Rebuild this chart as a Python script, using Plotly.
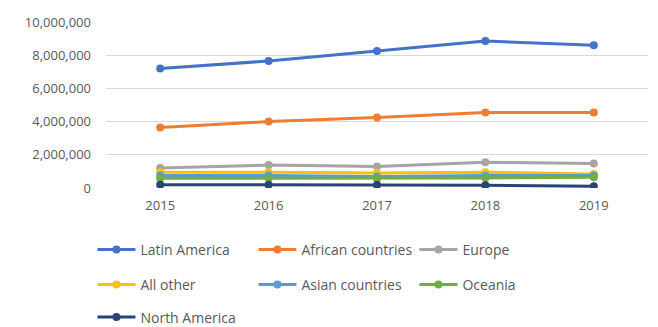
import plotly.graph_objects as go

years = ["2015", "2016", "2017", "2018", "2019"]
latin_america = [7200000, 7650000, 8250000, 8850000, 8600000]
african = [3650000, 4000000, 4250000, 4550000, 4550000]
europe = [1200000, 1380000, 1300000, 1550000, 1480000]
all_other = [950000, 950000, 900000, 950000, 850000]
asian = [750000, 750000, 700000, 750000, 750000]
oceania = [580000, 580000, 560000, 600000, 650000]
north_america = [200000, 200000, 180000, 170000, 100000]

series = [
    ("Latin America", latin_america, "#4472C4", "legend"),
    ("African countries", african, "#ED7D31", "legend"),
    ("Europe", europe, "#A5A5A5", "legend"),
    ("All other", all_other, "#FFC000", "legend2"),
    ("Asian countries", asian, "#5B9BD5", "legend2"),
    ("Oceania", oceania, "#70AD47", "legend2"),
    ("North America", north_america, "#264478", "legend3"),
]

fig = go.Figure()
for name, vals, color, lg in series:
    fig.add_trace(go.Scatter(
        x=years, y=vals, name=name, mode="lines+markers",
        line=dict(color=color, width=3),
        marker=dict(color=color, size=8),
        legend=lg,
    ))

font = dict(family="Open Sans, Liberation Sans, sans-serif", size=13, color="#595959")
leg_common = dict(orientation="h", xanchor="left", yanchor="middle",
                  entrywidth=108, entrywidthmode="pixels",
                  font=dict(family="Open Sans, sans-serif", size=14, color="#595959"),
                  bgcolor="rgba(0,0,0,0)", itemwidth=38, traceorder="normal")

fig.update_layout(
    width=658, height=327,
    margin=dict(l=106, r=10, t=22, b=139, autoexpand=False),
    paper_bgcolor="white", plot_bgcolor="white",
    font=font,
    showlegend=True,
    legend=dict(x=-0.025, y=-0.373, **leg_common),
    legend2=dict(x=-0.025, y=-0.584, **leg_common),
    legend3=dict(x=-0.025, y=-0.78, **leg_common),
    xaxis=dict(type="category", range=[-0.5, 4.5], showgrid=False, showline=False,
               ticks="", tickfont=font, ticklabelstandoff=8),
    yaxis=dict(range=[0, 10000000], dtick=2000000, tickformat=",d",
               gridcolor="#D9D9D9", gridwidth=1, zeroline=False, showline=False,
               tickfont=font, ticklabelstandoff=14),
)

fig.write_html("out.html")
